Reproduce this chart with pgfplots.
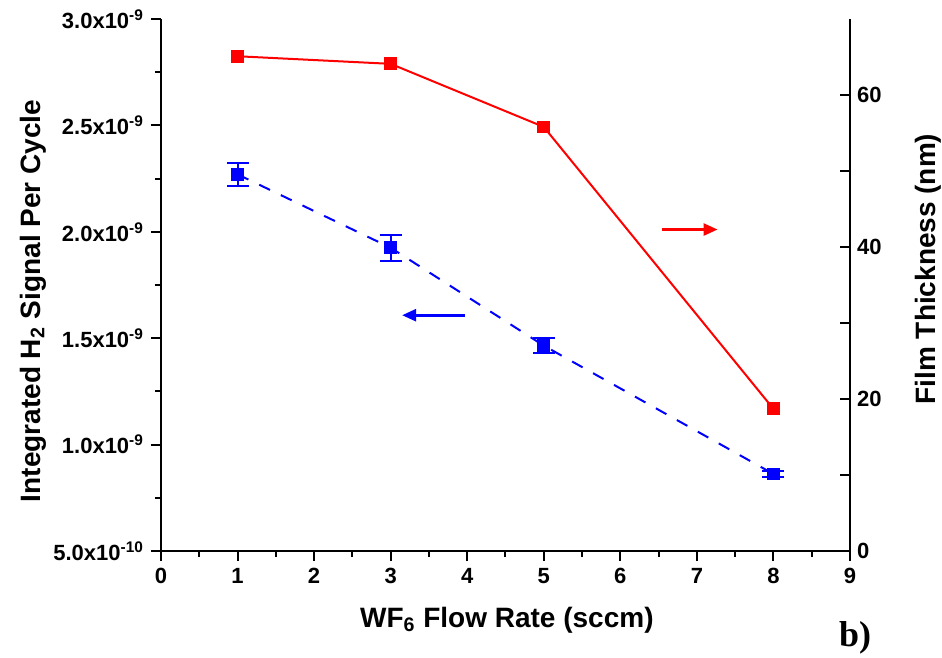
\documentclass[border=0pt]{standalone}
\usepackage{fontspec}
\setmainfont{Liberation Sans}
\newfontfamily\serifbf{Liberation Serif}
\usepackage{pgfplots}
\pgfplotsset{compat=1.18}
\usetikzlibrary{arrows.meta}

\pgfplotsset{
  common/.style={
    at={(0,0)}, anchor=south west,
    scale only axis, width=344.5pt, height=266pt,
    xmin=0, xmax=9,
    axis line style={-, line width=1pt},
    tick style={line width=1pt, black},
    major tick length=5pt, minor tick length=3pt,
    ticklabel style={font=\fontsize{11}{13}\selectfont\bfseries},
    /pgf/number format/assume math mode=true,
    label style={font=\fontsize{14}{16}\selectfont\bfseries},
  }
}

\begin{document}
\begin{tikzpicture}
\useasboundingbox (-80.5pt,-53.5pt) rectangle (390.5pt,275.5pt);

% left axis: H2 signal
\begin{axis}[common,
  ymin=5e-10, ymax=3e-9,
  axis x line*=bottom, axis y line*=left,
  tick align=outside,
  xtick={0,1,...,9}, minor x tick num=1,
  ytick={5e-10,1e-9,1.5e-9,2e-9,2.5e-9,3e-9},
  minor ytick={7.5e-10,1.25e-9,1.75e-9,2.25e-9,2.75e-9},
  scaled y ticks=false,
  yticklabels={5.0x10\textsuperscript{-10},1.0x10\textsuperscript{-9},1.5x10\textsuperscript{-9},2.0x10\textsuperscript{-9},2.5x10\textsuperscript{-9},3.0x10\textsuperscript{-9}},
  xlabel={WF\textsubscript{6} Flow Rate (sccm)},
  xlabel style={at={(axis description cs:0.502,-0.13)}, anchor=center},
  ylabel={Integrated H\textsubscript{2} Signal Per Cycle},
  ylabel style={at={(axis description cs:-0.186,0.47)}, anchor=center},
]
\addplot[blue, line width=1pt, dash pattern=on 6pt off 6pt,
  mark=square*, mark size=2.7pt, mark options={solid},
  error bars/.cd, y dir=both, y explicit,
  error bar style={line width=1pt, solid},
  error mark options={rotate=90, mark size=5.5pt, line width=1pt}]
  coordinates {
    (1,2.27e-9) +- (0,5.5e-11)
    (3,1.925e-9) +- (0,6e-11)
    (5,1.465e-9) +- (0,3.5e-11)
    (8,0.862e-9) +- (0,1.6e-11)
  };
\draw[blue, line width=1.3pt, -{Triangle[length=7pt,width=6pt]}]
  (axis cs:3.97,1.608e-9) -- (axis cs:3.15,1.608e-9);
\end{axis}

% right axis: film thickness
\begin{axis}[common,
  ymin=0, ymax=70,
  axis x line=none, axis y line*=right,
  tick align=inside,
  ytick={0,20,40,60}, minor ytick={10,30,50},
  minor tick length=5pt,
  ylabel={Film Thickness (nm)},
  ylabel style={at={(axis description cs:1.113,0.53)}, anchor=center},
]
\addplot[red, line width=1pt, mark=square*, mark size=2.7pt]
  coordinates {(1,65.1) (3,64.1) (5,55.8) (8,18.7)};
\draw[red, line width=1.3pt, -{Triangle[length=7pt,width=6pt]}]
  (axis cs:6.54,42.3) -- (axis cs:7.27,42.3);
\end{axis}

\node[font=\serifbf\bfseries\fontsize{18}{20}\selectfont] at (347pt,-43.5pt) {b)};
\end{tikzpicture}
\end{document}
